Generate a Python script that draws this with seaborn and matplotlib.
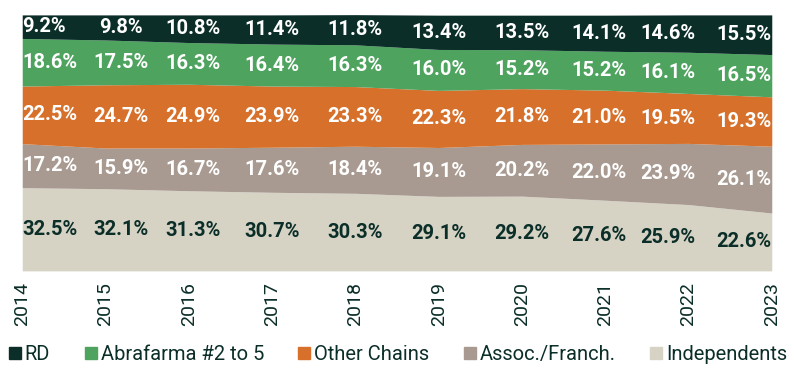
import numpy as np
import pandas as pd
import matplotlib
matplotlib.use('Agg')
import matplotlib.pyplot as plt
from matplotlib.lines import Line2D
import seaborn as sns

# market share by channel (%), bottom to top in the stack
years = [2014, 2015, 2016, 2017, 2018, 2019, 2020, 2021, 2022, 2023]
independents = [32.5, 32.1, 31.3, 30.7, 30.3, 29.1, 29.2, 27.6, 25.9, 22.6]
assoc_franch = [17.2, 15.9, 16.7, 17.6, 18.4, 19.1, 20.2, 22.0, 23.9, 26.1]
other_chains = [22.5, 24.7, 24.9, 23.9, 23.3, 22.3, 21.8, 21.0, 19.5, 19.3]
abrafarma = [18.6, 17.5, 16.3, 16.4, 16.3, 16.0, 15.2, 15.2, 16.1, 16.5]
rd = [9.2, 9.8, 10.8, 11.4, 11.8, 13.4, 13.5, 14.1, 14.6, 15.5]

series_names = ['Independents', 'Assoc./Franch.', 'Other Chains', 'Abrafarma #2 to 5', 'RD']
colors = ['#d6d3c5', '#a89a90', '#d6702a', '#4ea35f', '#0b2e28']
label_colors = ['#0b2e28', 'white', 'white', 'white', 'white']
dark = '#0b2e28'

sns.set_theme(style='white')
plt.rcParams['font.family'] = ['Roboto', 'DejaVu Sans']

df = pd.DataFrame({'year': years, 'Independents': independents, 'Assoc./Franch.': assoc_franch,
                   'Other Chains': other_chains, 'Abrafarma #2 to 5': abrafarma, 'RD': rd})

fig = plt.figure(figsize=(7.94, 3.92), dpi=100)
ax = fig.add_axes([0.028, 0.309, 0.944, 0.653])

ax.stackplot(df['year'], *[df[s] for s in series_names], colors=colors, linewidth=0)
ax.set_xlim(years[0], years[-1])
ax.set_ylim(0, 100)

# small horizontal nudges so labels sit like in the original layout
nudge = {2015: 0.18, 2016: 0.05, 2021: -0.08, 2022: -0.25}

# value labels centered in each band
cum = np.zeros(len(years))
for s, lc in zip(series_names, label_colors):
    vals = df[s].to_numpy()
    for i, (yr, v) in enumerate(zip(years, vals)):
        if i == 0:
            ha = 'left'
        elif i == len(years) - 1:
            ha = 'right'
        else:
            ha = 'center'
        ax.text(yr + nudge.get(yr, 0), cum[i] + v / 2, f'{v:.1f}%', ha=ha, va='center',
                color=lc, fontsize=14.5, fontweight='bold')
    cum += vals

ax.set_xticks(years)
ax.set_xticklabels([str(y) for y in years], rotation=90, fontsize=14, color=dark)
ax.set_yticks([])
ax.tick_params(axis='x', length=0, pad=8)
sns.despine(ax=ax, left=True, bottom=True)

handles = [Line2D([0], [0], marker='s', linestyle='', markersize=8, color=c)
           for c in colors[::-1]]
fig.legend(handles, series_names[::-1], loc='center', bbox_to_anchor=(0.5, 0.095), ncol=5,
           frameon=False, fontsize=14.5, handletextpad=0.1, columnspacing=1.6,
           labelcolor=dark, handlelength=0.8)

fig.savefig('out.png', dpi=100)
